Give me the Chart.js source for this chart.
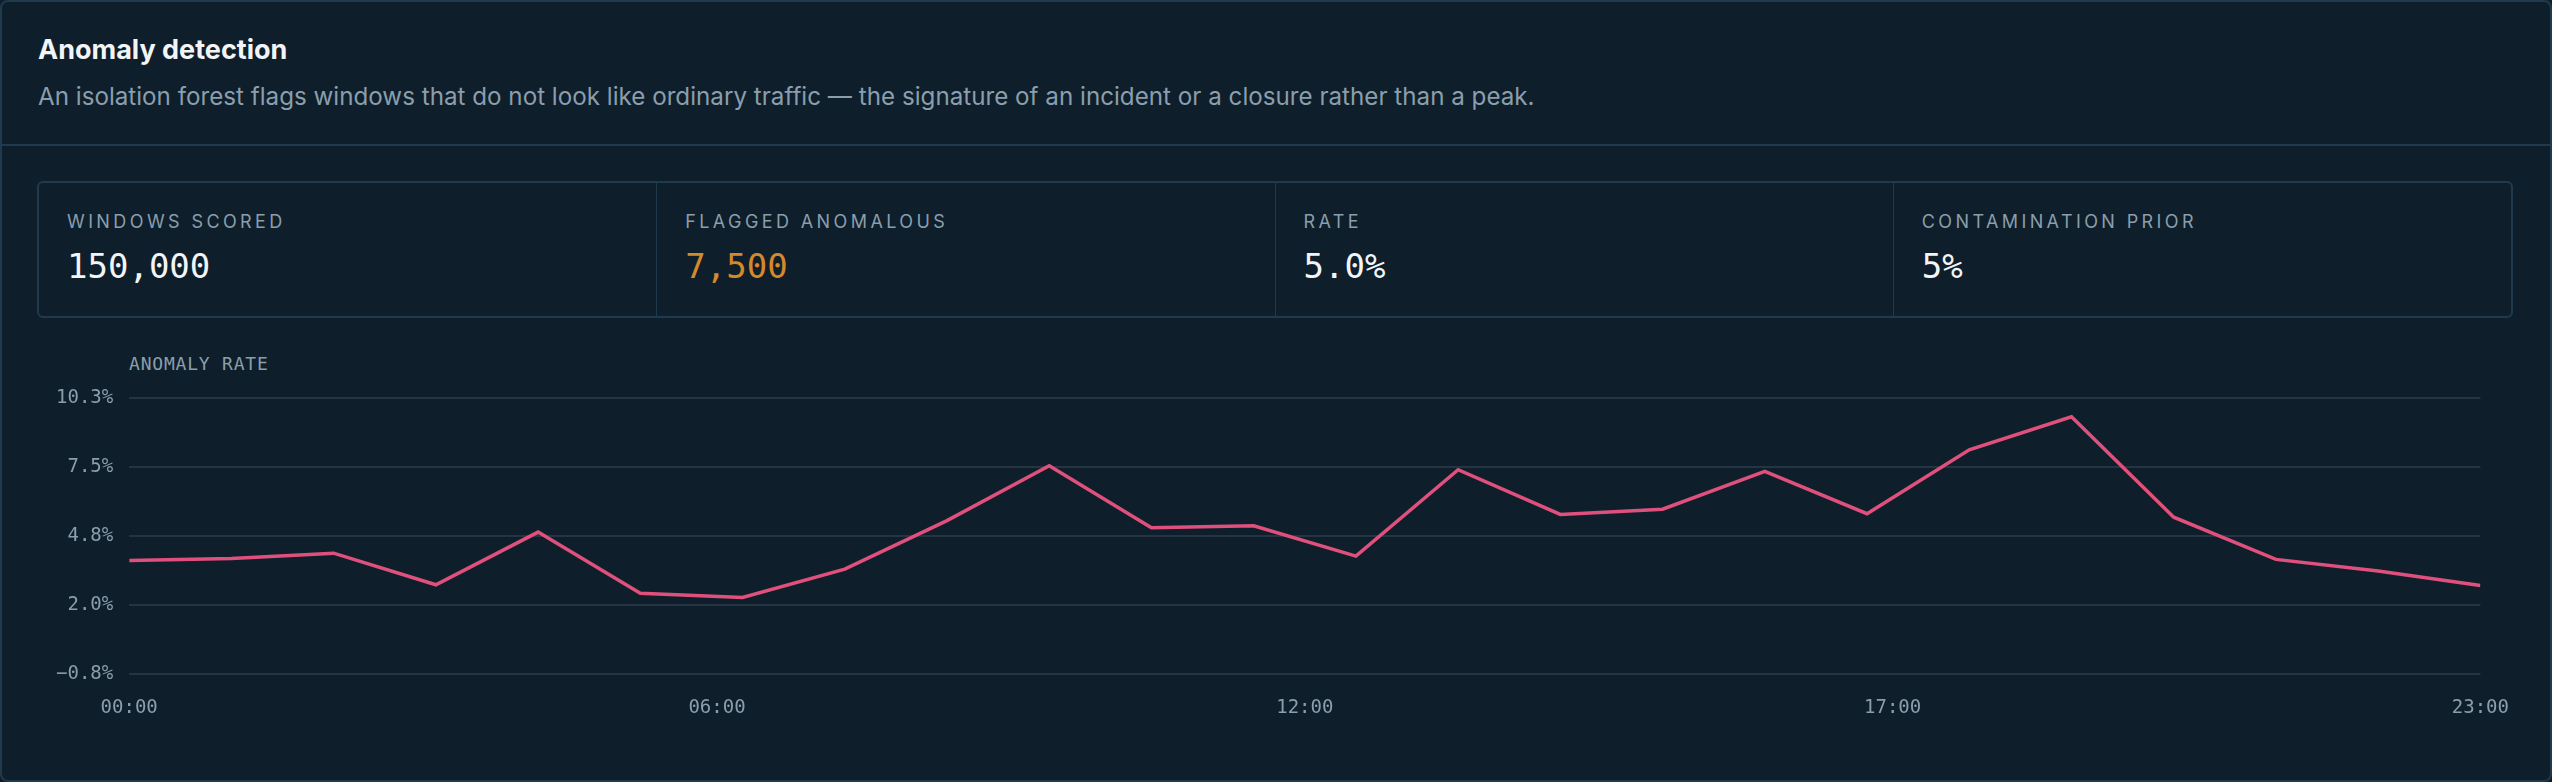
<!DOCTYPE html>
<html>
<head>
<meta charset="utf-8">
<script src="https://cdn.jsdelivr.net/npm/chart.js@4.4.1/dist/chart.umd.min.js"></script>
<style>
  html, body { margin: 0; padding: 0; background: #0f1d2a; }
  .panel {
    position: absolute; left: 0; top: 0; width: 2552px; height: 782px;
    box-sizing: border-box; border: 2px solid #1f3a4c; border-radius: 8px;
    background: #0f1e2b; overflow: hidden;
    font-family: Inter, "Noto Sans", sans-serif;
  }
  .header { position: absolute; left: 0; top: 0; right: 0; height: 142px; border-bottom: 2px solid #1f3a4c; }
  .title { position: absolute; left: 36px; top: 34px; font-size: 27px; line-height: 27px; font-weight: 700; color: #f2f5f7; }
  .subtitle { position: absolute; left: 36px; top: 83px; font-size: 24.2px; line-height: 24px; color: #8a9eab; }
  .kpis {
    position: absolute; left: 35px; top: 179px; width: 2476px; height: 137px;
    box-sizing: border-box; border: 2px solid #1f3a4c; border-radius: 6px; display: flex;
  }
  .kpi { flex: 1; position: relative; border-left: 1px solid #1f3a4c; }
  .kpi:first-child { border-left: none; }
  .kpi .lbl { position: absolute; left: 28px; top: 30px; font-size: 18px; line-height: 18px; letter-spacing: 3.4px; color: #8a9eab; }
  .kpi .val { position: absolute; left: 28px; top: 66px; font-family: "DejaVu Sans Mono", monospace; font-size: 34px; line-height: 34px; color: #f2f5f7; }
  .kpi .val.warn { color: #d4892a; }
  .chart-label { position: absolute; left: 127px; top: 353px; font-family: "DejaVu Sans Mono", monospace; font-size: 18px; line-height: 18px; letter-spacing: 0.8px; color: #8a9eab; }
  .chart-box { position: absolute; left: 35px; top: 369px; width: 2494px; height: 370px; }
</style>
</head>
<body>
<div class="panel">
  <div class="header">
    <div class="title">Anomaly detection</div>
    <div class="subtitle">An isolation forest flags windows that do not look like ordinary traffic — the signature of an incident or a closure rather than a peak.</div>
  </div>
  <div class="kpis">
    <div class="kpi"><div class="lbl">WINDOWS SCORED</div><div class="val">150,000</div></div>
    <div class="kpi"><div class="lbl">FLAGGED ANOMALOUS</div><div class="val warn">7,500</div></div>
    <div class="kpi"><div class="lbl">RATE</div><div class="val">5.0%</div></div>
    <div class="kpi"><div class="lbl">CONTAMINATION PRIOR</div><div class="val">5%</div></div>
  </div>
  <div class="chart-label">ANOMALY RATE</div>
  <div class="chart-box"><canvas id="graf_anomalies"></canvas></div>
</div>

<script>
const anomalies = document.getElementById('graf_anomalies');

// heures de 0 à 23 et taux d'anomalie (%)
const heures = [0, 1, 2, 3, 4, 5, 6, 7, 8, 9, 10, 11, 12, 13, 14, 15, 16, 17, 18, 19, 20, 21, 22, 23];
const taux = [3.78, 3.86, 4.07, 2.80, 4.92, 2.46, 2.29, 3.43, 5.38, 7.59, 5.09, 5.17,
              3.95, 7.43, 5.63, 5.84, 7.36, 5.66, 8.23, 9.56, 5.52, 3.82, 3.35, 2.77];

// étiquettes des axes
const xTickLabels = ['00:00', '06:00', '12:00', '17:00', '23:00'];
const yTickLabels = ['\u22120.8%', '2.0%', '4.8%', '7.5%', '10.3%'];
const yMin = -0.8;
const yMax = 10.3;

const points = heures.map((h, i) => ({ x: h, y: taux[i] }));

new Chart(anomalies, {
  type: 'line',
  data: {
    datasets: [{
      label: 'Anomaly rate',
      data: points,
      borderColor: '#e0507c',
      borderWidth: 3.5,
      pointRadius: 0,
      tension: 0,
      fill: false
    }]
  },
  options: {
    responsive: true,
    maintainAspectRatio: false,
    animation: false,
    layout: {
      padding: { left: 3, right: 0, top: 18, bottom: 0 }
    },
    plugins: {
      legend: { display: false },
      tooltip: { enabled: false }
    },
    scales: {
      x: {
        type: 'linear',
        min: 0,
        max: 23,
        border: { display: false },
        grid: { display: false, drawTicks: false },
        ticks: {
          count: xTickLabels.length,
          maxRotation: 0,
          autoSkip: false,
          padding: 22,
          color: '#8a9eab',
          font: { family: 'DejaVu Sans Mono', size: 19 },
          callback: (v, i) => xTickLabels[i]
        }
      },
      y: {
        min: yMin,
        max: yMax,
        border: { display: false },
        grid: { color: '#243442', lineWidth: 2, drawTicks: false },
        ticks: {
          count: yTickLabels.length,
          padding: 16,
          color: '#8a9eab',
          font: { family: 'DejaVu Sans Mono', size: 19 },
          callback: (v, i) => yTickLabels[i]
        }
      }
    }
  }
});
</script>
</body>
</html>
